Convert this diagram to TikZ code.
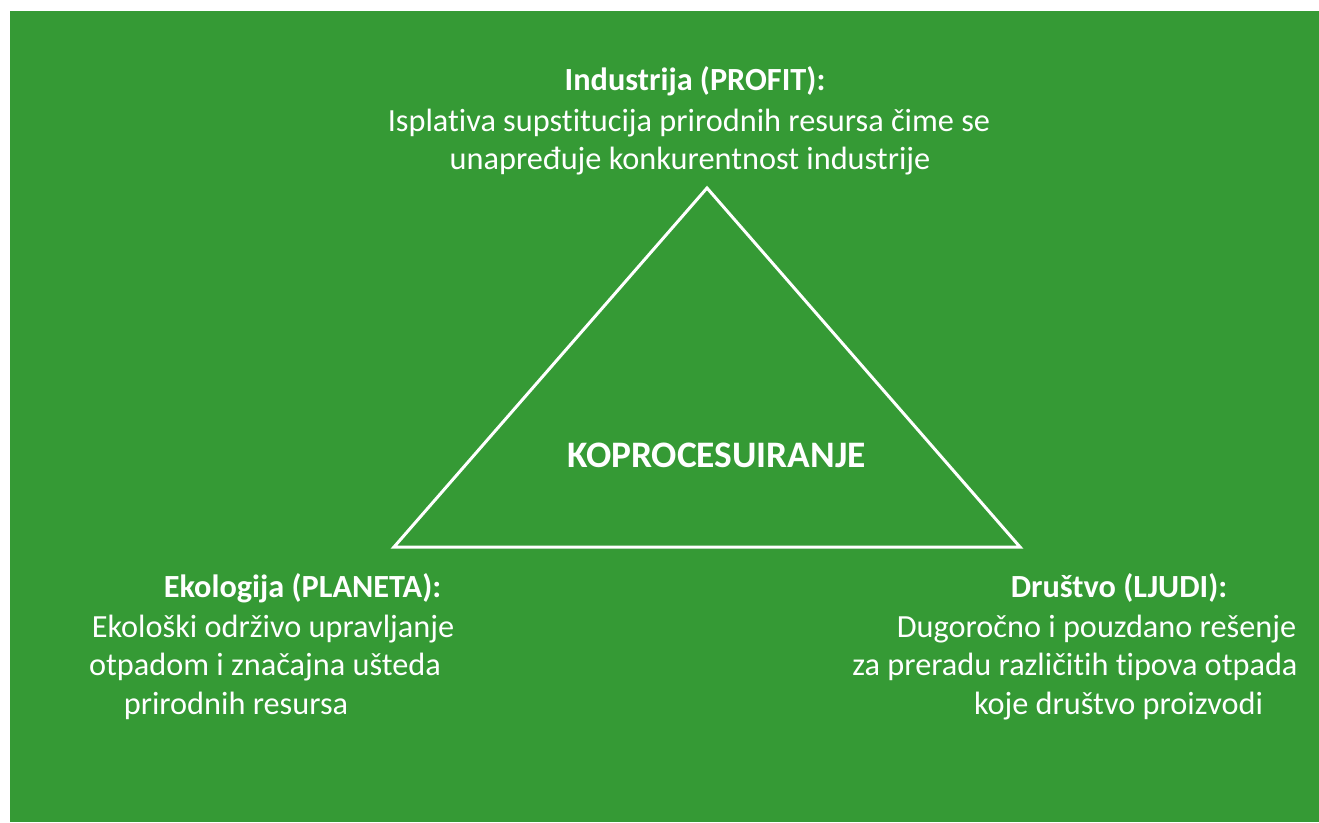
\documentclass[tikz,border=0pt]{standalone}
\usepackage{fontspec}
\setmainfont{Carlito}[Ligatures={NoCommon}]
\definecolor{bggreen}{HTML}{359A35}
\begin{document}
\begin{tikzpicture}[x=1pt,y=-1pt,
  txt/.style={text=white,inner sep=0pt,anchor=base,font=\fontsize{32.3}{38}\selectfont},
  btxt/.style={txt,font=\fontsize{32.3}{38}\selectfont\bfseries},
  ctxt/.style={txt,font=\fontsize{37.4}{44}\selectfont\bfseries}]
\useasboundingbox (0,0) rectangle (1319,822);
\fill[white] (0,0) rectangle (1319,822);
\fill[bggreen] (10,11) rectangle (1319,822);
\coordinate (apex) at (707,188);
\coordinate (bl) at (394,547);
\coordinate (br) at (1020,547);
\draw[white,line width=3pt,line join=miter] (apex) -- (bl) -- (br) -- cycle;
\node[btxt] (t1) at (695,90) {Industrija (PROFIT):};
\node[txt] (t2) at (689,131) {Isplativa supstitucija prirodnih resursa čime se};
\node[txt] (t3) at (690,169) {unapređuje konkurentnost industrije};
\node[ctxt] (c) at (716.5,467) {KOPROCESUIRANJE};
\node[btxt] (l1) at (302.5,597) {Ekologija (PLANETA):};
\node[txt] (l2) at (273,637) {Ekološki održivo upravljanje};
\node[txt] (l3) at (265,675) {otpadom i značajna ušteda};
\node[txt] (l4) at (236,714) {prirodnih resursa};
\node[btxt] (r1) at (1119,597) {Društvo (LJUDI):};
\node[txt] (r2) at (1096.5,637) {Dugoročno i pouzdano rešenje};
\node[txt] (r3) at (1075,675) {za preradu različitih tipova otpada};
\node[txt] (r4) at (1118.5,714) {koje društvo proizvodi};
\end{tikzpicture}
\end{document}
